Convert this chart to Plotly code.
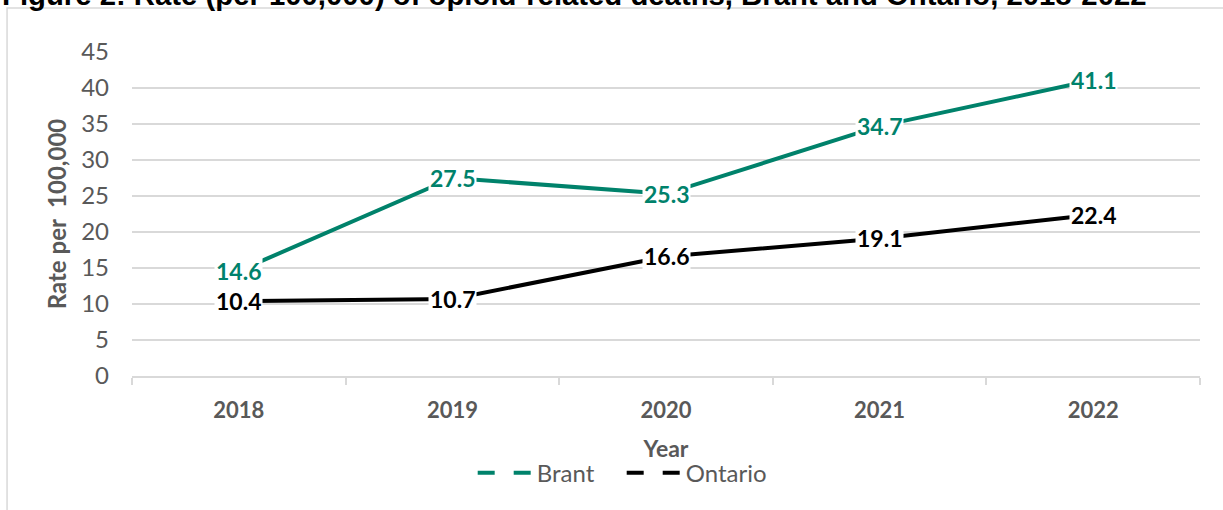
import plotly.graph_objects as go

years = ["2018", "2019", "2020", "2021", "2022"]
brant = [14.6, 27.5, 25.3, 34.7, 41.1]
ontario = [10.4, 10.7, 16.6, 19.1, 22.4]
y_ticks = [0, 5, 10, 15, 20, 25, 30, 35, 40, 45]

TEAL = "#00826B"
BLACK = "#000000"
GRAY = "#595959"
GRID = "#D9D9D9"
FONT = "Lato"

fig = go.Figure()

# main lines (no legend)
fig.add_trace(go.Scatter(x=years, y=brant, mode="lines", name="Brant",
                         line=dict(color=TEAL, width=4), showlegend=False,
                         hoverinfo="skip"))
fig.add_trace(go.Scatter(x=years, y=ontario, mode="lines", name="Ontario",
                         line=dict(color=BLACK, width=4), showlegend=False,
                         hoverinfo="skip"))
# legend entries (dashed sample like the original)
fig.add_trace(go.Scatter(x=[None], y=[None], mode="lines", name="Brant",
                         line=dict(color=TEAL, width=4, dash="17px,19px")))
fig.add_trace(go.Scatter(x=[None], y=[None], mode="lines", name="Ontario",
                         line=dict(color=BLACK, width=4, dash="17px,19px")))

annotations = []
for series, color in ((brant, TEAL), (ontario, BLACK)):
    for i, v in enumerate(series):
        # category axis: position by category index
        annotations.append(dict(x=i, y=v, xref="x", yref="y", text=f"{v}",
                                showarrow=False, bgcolor="white", borderpad=1,
                                font=dict(family=FONT, size=23, color=color,
                                          weight="bold")))

# figure title (partially clipped at the top, as in the original)
annotations.append(dict(x=-0.124, y=1.1775, xref="paper", yref="paper",
                        xanchor="left", yanchor="middle", showarrow=False,
                        text="Figure 2: Rate (per 100,000) of opioid-related deaths, Brant and Ontario, 2018-2022",
                        font=dict(family="Liberation Sans", size=29.3, color="#000000",
                                  weight="bold")))

fig.update_layout(
    width=1223, height=510,
    margin=dict(l=132, r=23, t=52, b=134),
    paper_bgcolor="white", plot_bgcolor="white",
    font=dict(family=FONT, size=22, color=GRAY),
    annotations=annotations,
    showlegend=True,
    legend=dict(orientation="h", x=0.319, xanchor="left", y=-0.30, yanchor="middle",
                font=dict(family=FONT, size=24, color=GRAY), itemwidth=54,
                entrywidth=80, entrywidthmode="pixels",
                bgcolor="rgba(0,0,0,0)"),
    shapes=[dict(type="rect", xref="paper", yref="paper",
                 x0=-0.117, x1=1.2, y0=-0.7, y1=1.136,
                 line=dict(color=GRID, width=1.5), layer="below")],
)

fig.update_xaxes(
    type="category", categoryorder="array", categoryarray=years,
    range=[-0.5, 4.5],
    showline=True, linecolor=GRID, linewidth=1.5,
    ticks="outside", tickson="boundaries", ticklen=7, tickcolor=GRID, tickwidth=1.5,
    showgrid=False,
    tickfont=dict(family=FONT, size=22, color=GRAY, weight="bold"),
    ticklabelstandoff=14,
    title=dict(text="Year", standoff=19,
               font=dict(family=FONT, size=23, color=GRAY, weight="bold")),
)
fig.update_yaxes(
    range=[0, 45], tickvals=y_ticks, ticktext=[str(t) for t in y_ticks],
    showgrid=True, gridcolor=GRID, gridwidth=1.5,
    zeroline=False, showline=False, ticks="",
    tickfont=dict(family=FONT, size=24, color=GRAY),
    ticklabelstandoff=22,
    title=dict(text="Rate per  100,000", standoff=7,
               font=dict(family=FONT, size=24, color=GRAY, weight="bold")),
)

fig.write_html("out.html")
